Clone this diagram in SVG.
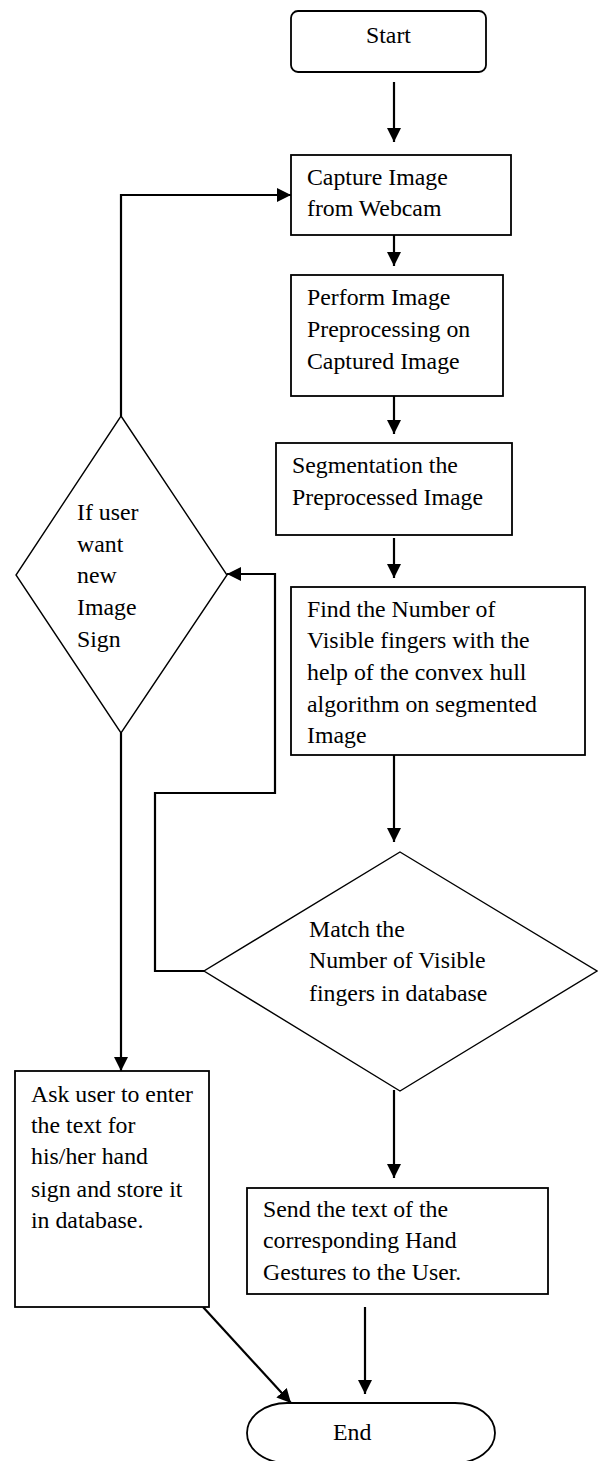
<svg xmlns="http://www.w3.org/2000/svg" width="598" height="1461" viewBox="0 0 598 1461">
<style>
.box{fill:#fff;stroke:#000;stroke-width:1.8}
.dia{fill:#fff;stroke:#000;stroke-width:1.4}
.t{font-family:"Liberation Serif","Times New Roman",serif;font-size:23.8px;fill:#000}
.c{fill:none;stroke:#000;stroke-width:2.2}
</style>
<defs>
<marker id="ah" markerUnits="userSpaceOnUse" markerWidth="15" markerHeight="14" refX="14" refY="7" orient="auto" viewBox="0 0 15 14">
<path d="M0,0 L14,7 L0,14 z" fill="#000"/>
</marker>
</defs>
<rect width="598" height="1461" fill="#fff"/>
<g id="connectors">
<path class="c" d="M394,82 L394,142" marker-end="url(#ah)"/>
<path class="c" d="M394,227 L394,266" marker-end="url(#ah)"/>
<path class="c" d="M394,396 L394,434" marker-end="url(#ah)"/>
<path class="c" d="M394,538 L394,578" marker-end="url(#ah)"/>
<path class="c" d="M394,755 L394,842" marker-end="url(#ah)"/>
<path class="c" d="M394,1090 L394,1178" marker-end="url(#ah)"/>
<path class="c" d="M365,1307 L365,1394" marker-end="url(#ah)"/>
<path class="c" d="M203,1307 L291,1403" marker-end="url(#ah)"/>
<path class="c" d="M204,971 L155,971 L155,793 L275,793 L275,574 L227,574" marker-end="url(#ah)"/>
<path class="c" d="M121,416 L121,195 L291,195" marker-end="url(#ah)"/>
<path class="c" d="M121,733 L121,1071" marker-end="url(#ah)"/>
</g>
<g id="start">
<rect class="box" x="291" y="11" width="195" height="61" rx="7"/>
<text class="t" x="366" y="43">Start</text>
</g>
<g id="capture">
<rect class="box" x="291" y="155" width="220" height="80"/>
<text class="t" x="307" y="185">Capture Image</text>
<text class="t" x="307" y="216">from Webcam</text>
</g>
<g id="preprocess">
<rect class="box" x="291" y="275" width="212" height="121"/>
<text class="t" x="307" y="305">Perform Image</text>
<text class="t" x="307" y="337">Preprocessing on</text>
<text class="t" x="307" y="369">Captured Image</text>
</g>
<g id="segmentation">
<rect class="box" x="276" y="443" width="236" height="92"/>
<text class="t" x="292" y="473">Segmentation the</text>
<text class="t" x="292" y="505">Preprocessed Image</text>
</g>
<g id="find">
<rect class="box" x="291" y="587" width="294" height="168"/>
<text class="t" x="307" y="617">Find the Number of</text>
<text class="t" x="307" y="648">Visible fingers with the</text>
<text class="t" x="307" y="680">help of the convex hull</text>
<text class="t" x="307" y="712">algorithm on segmented</text>
<text class="t" x="307" y="743">Image</text>
</g>
<g id="match">
<polygon class="dia" points="400,852 597,971 400,1091 204,971"/>
<text class="t" x="309" y="937">Match the</text>
<text class="t" x="309" y="968">Number of Visible</text>
<text class="t" x="309" y="1001">fingers in database</text>
</g>
<g id="newsign">
<polygon class="dia" points="121,416 227,575 121,733 16,575"/>
<text class="t" x="77" y="520">If user</text>
<text class="t" x="77" y="552">want</text>
<text class="t" x="77" y="583">new</text>
<text class="t" x="77" y="615">Image</text>
<text class="t" x="77" y="647">Sign</text>
</g>
<g id="ask">
<rect class="box" x="15" y="1071" width="194" height="236"/>
<text class="t" x="31" y="1102">Ask user to enter</text>
<text class="t" x="31" y="1133">the text for</text>
<text class="t" x="31" y="1164">his/her hand</text>
<text class="t" x="31" y="1197">sign and store it</text>
<text class="t" x="31" y="1228">in database.</text>
</g>
<g id="send">
<rect class="box" x="247" y="1188" width="301" height="106"/>
<text class="t" x="263" y="1217">Send the text of the</text>
<text class="t" x="263" y="1248">corresponding Hand</text>
<text class="t" x="263" y="1280">Gestures to the User.</text>
</g>
<g id="end">
<rect class="box" x="247" y="1403" width="248" height="60" rx="40" ry="30"/>
<text class="t" x="333" y="1440">End</text>
</g>
</svg>
